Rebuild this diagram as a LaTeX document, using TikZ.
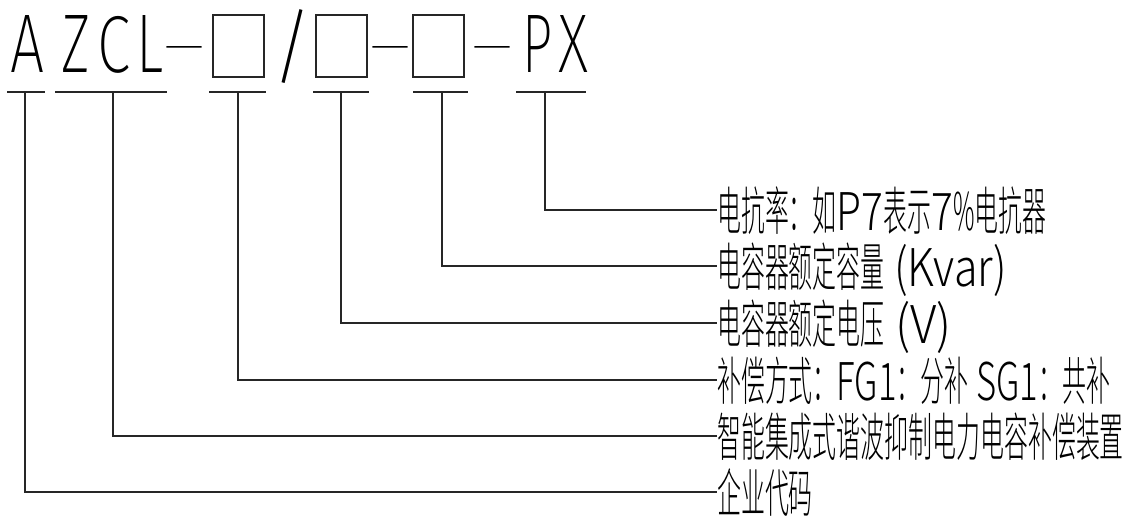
\documentclass[tikz,border=0pt]{standalone}
\usepackage{fontspec}
\usepackage{graphicx}
\IfFontExistsTF{Noto Sans CJK SC Light}{\newfontfamily\cjk{Noto Sans CJK SC Light}}{%
  \IfFontExistsTF{Noto Sans CJK SC DemiLight}{\newfontfamily\cjk{Noto Sans CJK SC DemiLight}}{%
    \newfontfamily\cjk{Noto Sans CJK SC}}}
\IfFontExistsTF{Noto Sans ExtraLight}{\newfontfamily\thinfont{Noto Sans ExtraLight}}{%
 \IfFontExistsTF{Fira Sans ExtraLight}{\newfontfamily\thinfont{Fira Sans ExtraLight}}{%
  \IfFontExistsTF{DejaVu Sans ExtraLight}{\newfontfamily\thinfont{DejaVu Sans ExtraLight}}{%
   \IfFontExistsTF{Fira Sans Light}{\newfontfamily\thinfont{Fira Sans Light}}{%
    \IfFontExistsTF{Lato Light}{\newfontfamily\thinfont{Lato Light}}{%
     \IfFontExistsTF{Noto Sans Light}{\newfontfamily\thinfont{Noto Sans Light}}{%
      \newfontfamily\thinfont{Noto Sans CJK SC}}}}}}}
\newcommand{\topch}[3]{\resizebox*{#1}{#2}{\thinfont\fontsize{80}{80}\selectfont #3}}
\newcommand{\lat}[2][1.45]{\scalebox{#1}[1]{#2}}
\newcommand{\lbltxt}[1]{\scalebox{0.46}[1]{\cjk\fontsize{52}{52}\selectfont #1}}
\tikzset{
  ln/.style={line width=1.2pt, black!85},
  topc/.style={inner sep=0pt, anchor=base},
  topm/.style={inner sep=0pt, anchor=center},
  topd/.style={inner sep=0pt, anchor=north},
  lbl/.style={inner sep=0pt, anchor=west, text height=46pt, text depth=6pt},
  blank/.style={draw, line width=1.2pt, black!85, minimum width=51pt, minimum height=62pt, inner sep=0pt}
}
\begin{document}
\begin{tikzpicture}[x=1pt,y=-1pt]
\useasboundingbox[fill=white] (0,0) rectangle (1140,525);
% top row
\node[topc] (tA) at (28,72) {\topch{34pt}{57pt}{A}};
\node[topc] (tZ) at (75.5,72) {\topch{29pt}{57pt}{Z}};
\node[topc] (tC) at (113.5,72) {\topch{33pt}{57pt}{C}};
\node[topc] (tL) at (150,72) {\topch{27pt}{57pt}{L}};
\node[topd] (d1) at (184.5,46) {\topch{42pt}{14pt}{–}};
\node[blank] (b1) at (238.5,46) {};
\node[topm] (sl) at (292.5,46.5) {\topch{40pt}{74pt}{/}};
\node[blank] (b2) at (341.5,46) {};
\node[topd] (d2) at (390.5,46) {\topch{42pt}{14pt}{–}};
\node[blank] (b3) at (438.5,46) {};
\node[topd] (d3) at (492.5,46) {\topch{42pt}{14pt}{–}};
\node[topc] (tP) at (537,72) {\topch{30pt}{57pt}{P}};
\node[topc] (tX) at (573,72) {\topch{30pt}{57pt}{X}};
% underlines
\draw[ln] (7,92) -- (45,92);
\draw[ln] (55,92) -- (167,92);
\draw[ln] (209,92) -- (266,92);
\draw[ln] (313,92) -- (369,92);
\draw[ln] (413,92) -- (468,92);
\draw[ln] (516,92) -- (586,92);
\coordinate (uA) at (25,92);
\coordinate (uZ) at (113,92);
\coordinate (u1) at (238,92);
\coordinate (u2) at (341,92);
\coordinate (u3) at (442,92);
\coordinate (uP) at (545,92);
% labels
\node[lbl] (l1) at (717,210) {\lbltxt{电抗率：如\lat[1.7]{P7}表示\lat[1.7]{7}\%电抗器}};
\node[lbl] (l2) at (717,266) {\lbltxt{电容器额定容量\lat[1.8]{ (Kvar)}}};
\node[lbl] (l3) at (717,323) {\lbltxt{电容器额定电压\lat[2.0]{ (V)}}};
\node[lbl] (l4) at (717,380) {\lbltxt{补偿方式：\lat{FG1}：分补\lat{ SG1}：共补}};
\node[lbl] (l5) at (717,436) {\lbltxt{智能集成式谐波抑制电力电容补偿装置}};
\node[lbl] (l6) at (717,492) {\lbltxt{企业代码}};
% connectors
\draw[ln] (uP) |- (l1.west);
\draw[ln] (u3) |- (l2.west);
\draw[ln] (u2) |- (l3.west);
\draw[ln] (u1) |- (l4.west);
\draw[ln] (uZ) |- (l5.west);
\draw[ln] (uA) |- (l6.west);
\end{tikzpicture}
\end{document}
